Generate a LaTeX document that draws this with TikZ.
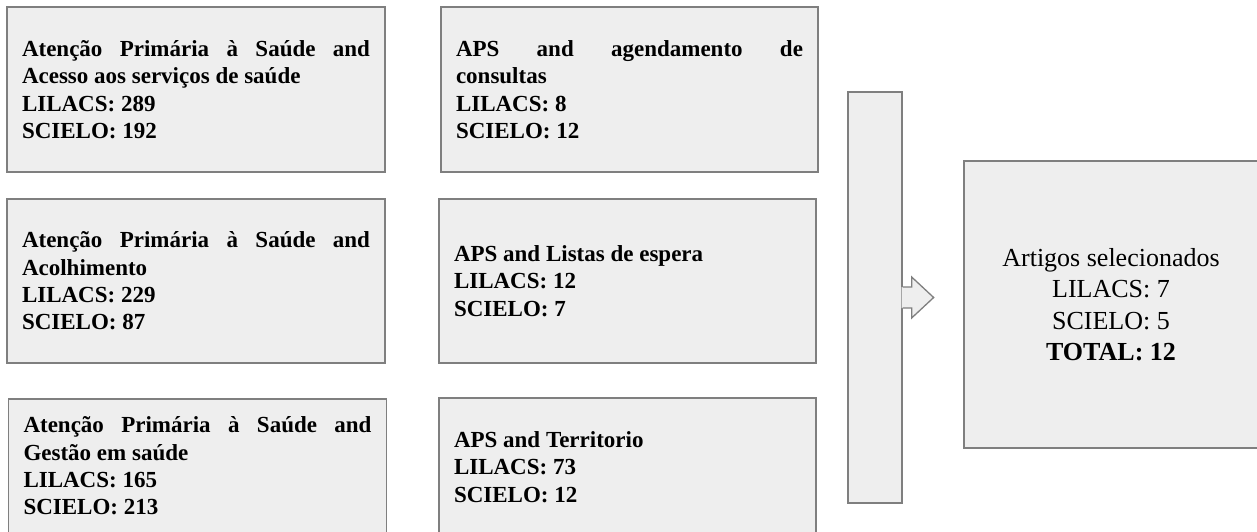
\documentclass[tikz,border=0pt]{standalone}
\usepackage{fontspec}
\setmainfont{Liberation Serif}
\definecolor{boxfill}{HTML}{EEEEEE}
\definecolor{boxline}{HTML}{7F7F7F}
\begin{document}
\begin{tikzpicture}[x=1pt,y=-1pt,
  box/.style={draw=boxline,fill=boxfill,line width=1.3pt,rectangle,inner xsep=15pt,inner ysep=0pt,
    align=justify,font=\fontsize{23}{27.4}\selectfont\bfseries,anchor=center},
  colA/.style={box,text width=348pt},
  colB/.style={box,text width=347pt},
  result/.style={draw=boxline,fill=boxfill,line width=1.3pt,rectangle,align=center,
    minimum width=294pt,minimum height=287pt,font=\fontsize{26}{31.5}\selectfont}
]
\useasboundingbox (0,0) rectangle (1257,532);
\fill[white] (0,0) rectangle (1257,532);

\node[colA,minimum height=165pt] (a1) at (196,89.5)
  {Atenção Primária à Saúde and\linebreak Acesso aos serviços de saúde\par LILACS: 289\par SCIELO: 192};
\node[colA,minimum height=164pt] (a2) at (196,281)
  {Atenção Primária à Saúde and\linebreak Acolhimento\par LILACS: 229\par SCIELO: 87};
\node[colA,minimum height=134pt] (a3) at (197.5,466)
  {Atenção Primária à Saúde and\linebreak Gestão em saúde\par LILACS: 165\par SCIELO: 213};

\node[colB,minimum height=165pt] (b1) at (629.5,89.5)
  {APS and agendamento de\linebreak consultas\par LILACS: 8\par SCIELO: 12};
\node[colB,minimum height=164pt] (b2) at (627.5,281)
  {APS and Listas de espera\par LILACS: 12\par SCIELO: 7};
\node[colB,minimum height=138pt] (b3) at (627.5,467)
  {APS and Territorio\par LILACS: 73\par SCIELO: 12};

\node[draw=boxline,fill=boxfill,line width=1.3pt,rectangle,minimum width=54pt,minimum height=411pt,inner sep=0pt] (bar) at (875,297.5) {};

\begin{scope}[shift={(bar.east)}]
  \fill[boxfill] (-1,-10.5) -- (9,-10.5) -- (9,-20.5) -- (31,0) -- (9,20.5) -- (9,10.5) -- (-1,10.5) -- cycle;
  \draw[boxline,line width=1.3pt,line join=miter] (0,-10.5) -- (9,-10.5) -- (9,-20.5) -- (31,0) -- (9,20.5) -- (9,10.5) -- (0,10.5);
\end{scope}

\node[result] (c) at (1111,304.5)
  {Artigos selecionados\\ LILACS: 7\\ SCIELO: 5\\ \textbf{TOTAL: 12}};
\end{tikzpicture}
\end{document}
